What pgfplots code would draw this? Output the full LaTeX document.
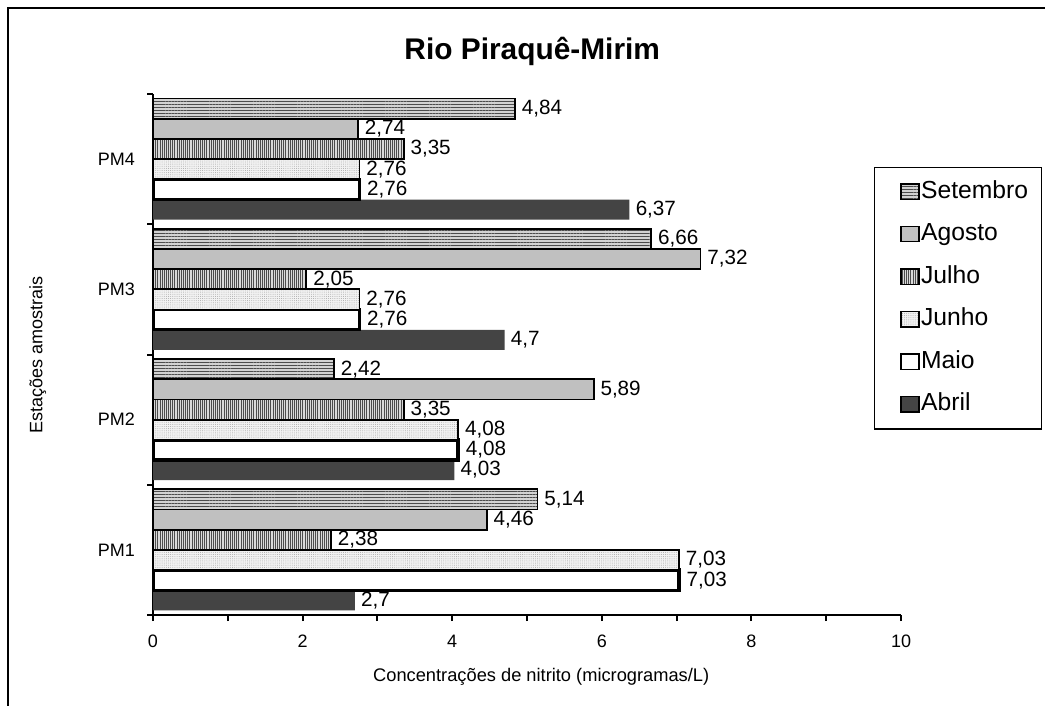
\documentclass[border=0pt]{standalone}
\usepackage{fontspec}
\setmainfont{Liberation Sans}
\usepackage{pgfplots}
\pgfplotsset{compat=1.18}
\usetikzlibrary{patterns.meta}
\definecolor{abril}{HTML}{444444}
\definecolor{agosto}{HTML}{C0C0C0}
\begin{document}
\begin{tikzpicture}
\path[use as bounding box] (0pt,0pt) rectangle (783.75pt,-529.5pt);
\draw[line width=1.6pt] (6pt,-540pt) -- (6pt,-6pt) -- (795pt,-6pt);
\begin{axis}[
  at={(114.75pt,-461.25pt)}, anchor=south west,
  scale only axis, width=561pt, height=390.75pt,
  xbar, bar width=0.155,
  xmin=0, xmax=10, ymin=-0.5, ymax=3.5,
  axis x line*=bottom, axis y line*=left,
  axis line style={line width=1.5pt,-},
  every tick/.style={line width=1.5pt, black},
  tick align=outside, major tick length=4.5pt,
  xtick={0,1,...,10}, xticklabels={0,,2,,4,,6,,8,,10},
  ytick={-0.5,0.5,1.5,2.5,3.5}, yticklabels={},
  extra y ticks={0,1,2,3}, extra y tick labels={PM1,PM2,PM3,PM4},
  extra y tick style={major tick length=0pt, yticklabel style={xshift=-10pt}},
  /pgf/number format/assume math mode=true,
  /pgf/number format/use comma,
  ticklabel style={font=\fontsize{13.5}{16}\selectfont},
  xticklabel style={yshift=-7pt},
  nodes near coords,
  nodes near coords style={font=\fontsize{15.5}{18}\selectfont, anchor=west, inner sep=4.5pt, black},
  title={\textbf{Rio Piraquê-Mirim}},
  title style={font=\fontsize{22.4}{26}\selectfont, at={(axis description cs:0.507,1.067)}, anchor=center},
  xlabel={Concentrações de nitrito (microgramas/L)},
  xlabel style={font=\fontsize{13.7}{16}\selectfont, at={(axis description cs:0.519,-0.119)}, anchor=center},
  ylabel={Estações amostrais},
  ylabel style={font=\fontsize{13.5}{16}\selectfont, at={(axis description cs:-0.154,0.5)}, anchor=center},
  legend style={at={(axis description cs:0.964,0.86)}, anchor=north west,
    draw=black, line width=1pt, font=\fontsize{18.5}{22}\selectfont,
    nodes={inner sep=1pt, text height=13.5pt, text depth=4pt},
    column sep=0pt, row sep=12.4pt, inner xsep=9pt, inner ysep=8.5pt, cells={anchor=west}},
  reverse legend,
  legend image code/.code={\path (0pt,0pt); \draw[line width=1pt, #1] (9.5pt,-5.5pt) rectangle (23pt,6pt);},
]
\addplot[fill=abril, draw=none, bar shift=-0.3875] coordinates {(2.7,0) (4.03,1) (4.7,2) (6.37,3)};
\addplot[fill=white, draw=black, line width=2.6pt, bar shift=-0.2325] coordinates {(7.03,0) (4.08,1) (2.76,2) (2.76,3)};
\addplot[fill=black!5, draw=black, line width=1.4pt, bar shift=-0.0775,
  postaction={pattern={Dots[distance=1.6pt, radius=0.35pt]}, pattern color=gray!70}] coordinates {(7.03,0) (4.08,1) (2.76,2) (2.76,3)};
\addplot[fill=gray!30, draw=black, line width=1.4pt, bar shift=0.0775,
  postaction={pattern={Lines[angle=90, distance=1.6pt, line width=0.7pt]}, pattern color=black!70}] coordinates {(2.38,0) (3.35,1) (2.05,2) (3.35,3)};
\addplot[fill=agosto, draw=black, line width=1.4pt, bar shift=0.2325] coordinates {(4.46,0) (5.89,1) (7.32,2) (2.74,3)};
\addplot[fill=gray!35, draw=black, line width=1.4pt, bar shift=0.3875,
  postaction={pattern={Lines[angle=0, distance=2.2pt, line width=0.8pt]}, pattern color=gray!60!black}] coordinates {(5.14,0) (2.42,1) (6.66,2) (4.84,3)};
\legend{Abril,Maio,Junho,Julho,Agosto,Setembro}
\end{axis}
\end{tikzpicture}
\end{document}
